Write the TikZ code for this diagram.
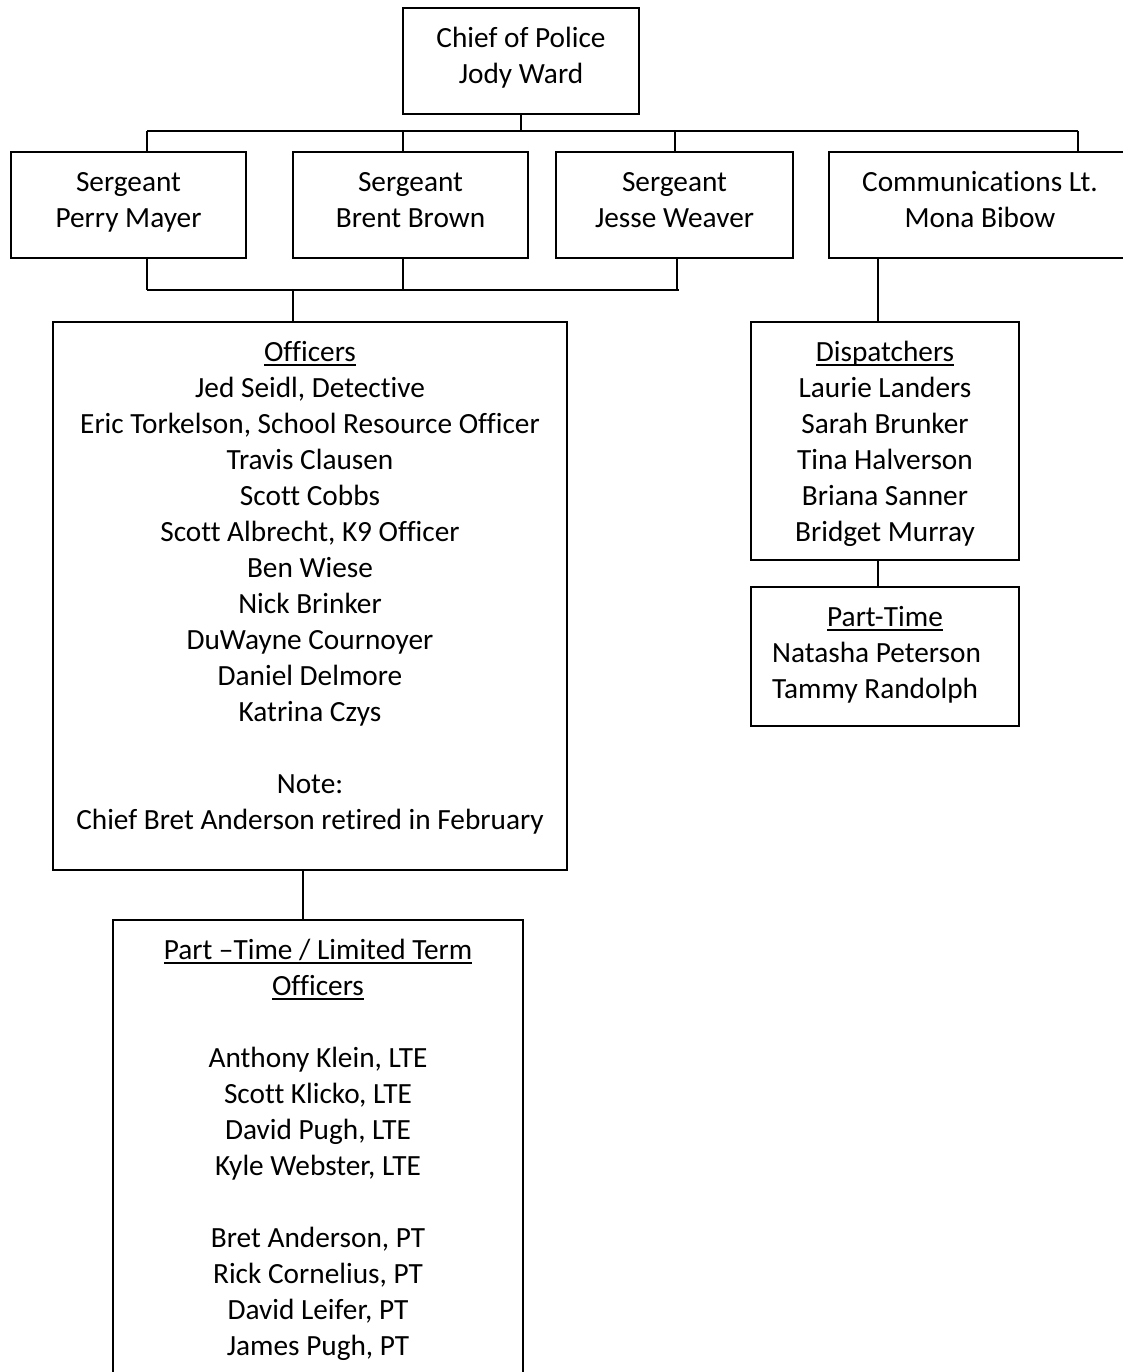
\documentclass[tikz,border=0pt]{standalone}
\usepackage{fontspec}
\setmainfont{Carlito}[Ligatures={NoCommon,TeX}]
\newcommand\ulx[1]{\setbox0\hbox{#1}\rlap{\rule[-4.5pt]{\wd0}{1.8pt}}\box0}
\begin{document}
\begin{tikzpicture}[x=1pt,y=-1pt,
  box/.style={draw, line width=1.8pt, inner sep=0pt},
  txt/.style={font=\fontsize{29.3}{36}\selectfont, align=center, inner sep=0pt, anchor=north},
  conn/.style={line width=1.8pt}]
\useasboundingbox (0,0) rectangle (1122,1372);
% boxes
\node[box, minimum width=236, minimum height=106] (chief) at (521,61) {};
\node[box, minimum width=235, minimum height=106] (s1) at (128.5,205) {};
\node[box, minimum width=235, minimum height=106] (s2) at (410.5,205) {};
\node[box, minimum width=237, minimum height=106] (s3) at (674.5,205) {};
\node[box, minimum width=311, minimum height=106] (comm) at (984.5,205) {};
\node[box, minimum width=514, minimum height=548] (off) at (310,596) {};
\node[box, minimum width=410, minimum height=470] (pto) at (318,1155) {};
\node[box, minimum width=268, minimum height=238] (disp) at (885,441) {};
\node[box, minimum width=268, minimum height=139] (ptr) at (885,656.5) {};
% texts
\node[txt] (chiefT) at (521,21.8) {\strut Chief of Police\\Jody Ward};
\node[txt] (s1T) at (128.5,165.8) {\strut Sergeant\\Perry Mayer};
\node[txt] (s2T) at (410.5,165.8) {\strut Sergeant\\Brent Brown};
\node[txt] (s3T) at (674.5,165.8) {\strut Sergeant\\Jesse Weaver};
\node[txt] (commT) at (980,165.8) {\strut Communications Lt.\\Mona Bibow};
\node[txt] (offT) at (310,335.8) {\strut\ulx{Officers}\\Jed Seidl, Detective\\Eric Torkelson, School Resource Officer\\Travis Clausen\\Scott Cobbs\\Scott Albrecht, K9 Officer\\Ben Wiese\\Nick Brinker\\DuWayne Cournoyer\\Daniel Delmore\\Katrina Czys\\[36pt]Note:\\Chief Bret Anderson retired in February};
\node[txt] (dispT) at (885,335.8) {\strut\ulx{Dispatchers}\\Laurie Landers\\Sarah Brunker\\Tina Halverson\\Briana Sanner\\Bridget Murray};
\node[txt] (ptrT) at (885,600.8) {\strut\ulx{Part-Time}};
\node[txt, align=left, anchor=north west] (ptrN) at (772,636.8) {\strut Natasha Peterson\\Tammy Randolph};
\node[txt] (ptoT) at (318,933.8) {\strut\ulx{Part –Time / Limited Term}\\\ulx{Officers}\\[36pt]Anthony Klein, LTE\\Scott Klicko, LTE\\David Pugh, LTE\\Kyle Webster, LTE\\[36pt]Bret Anderson, PT\\Rick Cornelius, PT\\David Leifer, PT\\James Pugh, PT};
% bus coordinates
\coordinate (t1) at (147,131);
\coordinate (t2) at (403,131);
\coordinate (t3) at (675,131);
\coordinate (t4) at (1078,131);
\coordinate (b1) at (147,290);
\coordinate (b2) at (403,290);
\coordinate (b3) at (677,290);
\coordinate (b0) at (293,290);
% connectors
\draw[conn] (chief.south) -- (chief.south |- t1);
\draw[conn] (t1) -- (t4);
\draw[conn] (t1) -- (t1 |- s1.north);
\draw[conn] (t2) -- (t2 |- s2.north);
\draw[conn] (t3) -- (t3 |- s3.north);
\draw[conn] (t4) -- (t4 |- comm.north);
\draw[conn] (b1 |- s1.south) -- (b1);
\draw[conn] (b2 |- s2.south) -- (b2);
\draw[conn] (b3 |- s3.south) -- (b3);
\draw[conn] (b1) -- ([xshift=2pt]b3);
\draw[conn] (b0) -- (b0 |- off.north);
\draw[conn] (off.south -| 303,0) -- (pto.north -| 303,0);
\draw[conn] (comm.south -| 878,0) -- (disp.north -| 878,0);
\draw[conn] (disp.south -| 878,0) -- (ptr.north -| 878,0);
\end{tikzpicture}
\end{document}
